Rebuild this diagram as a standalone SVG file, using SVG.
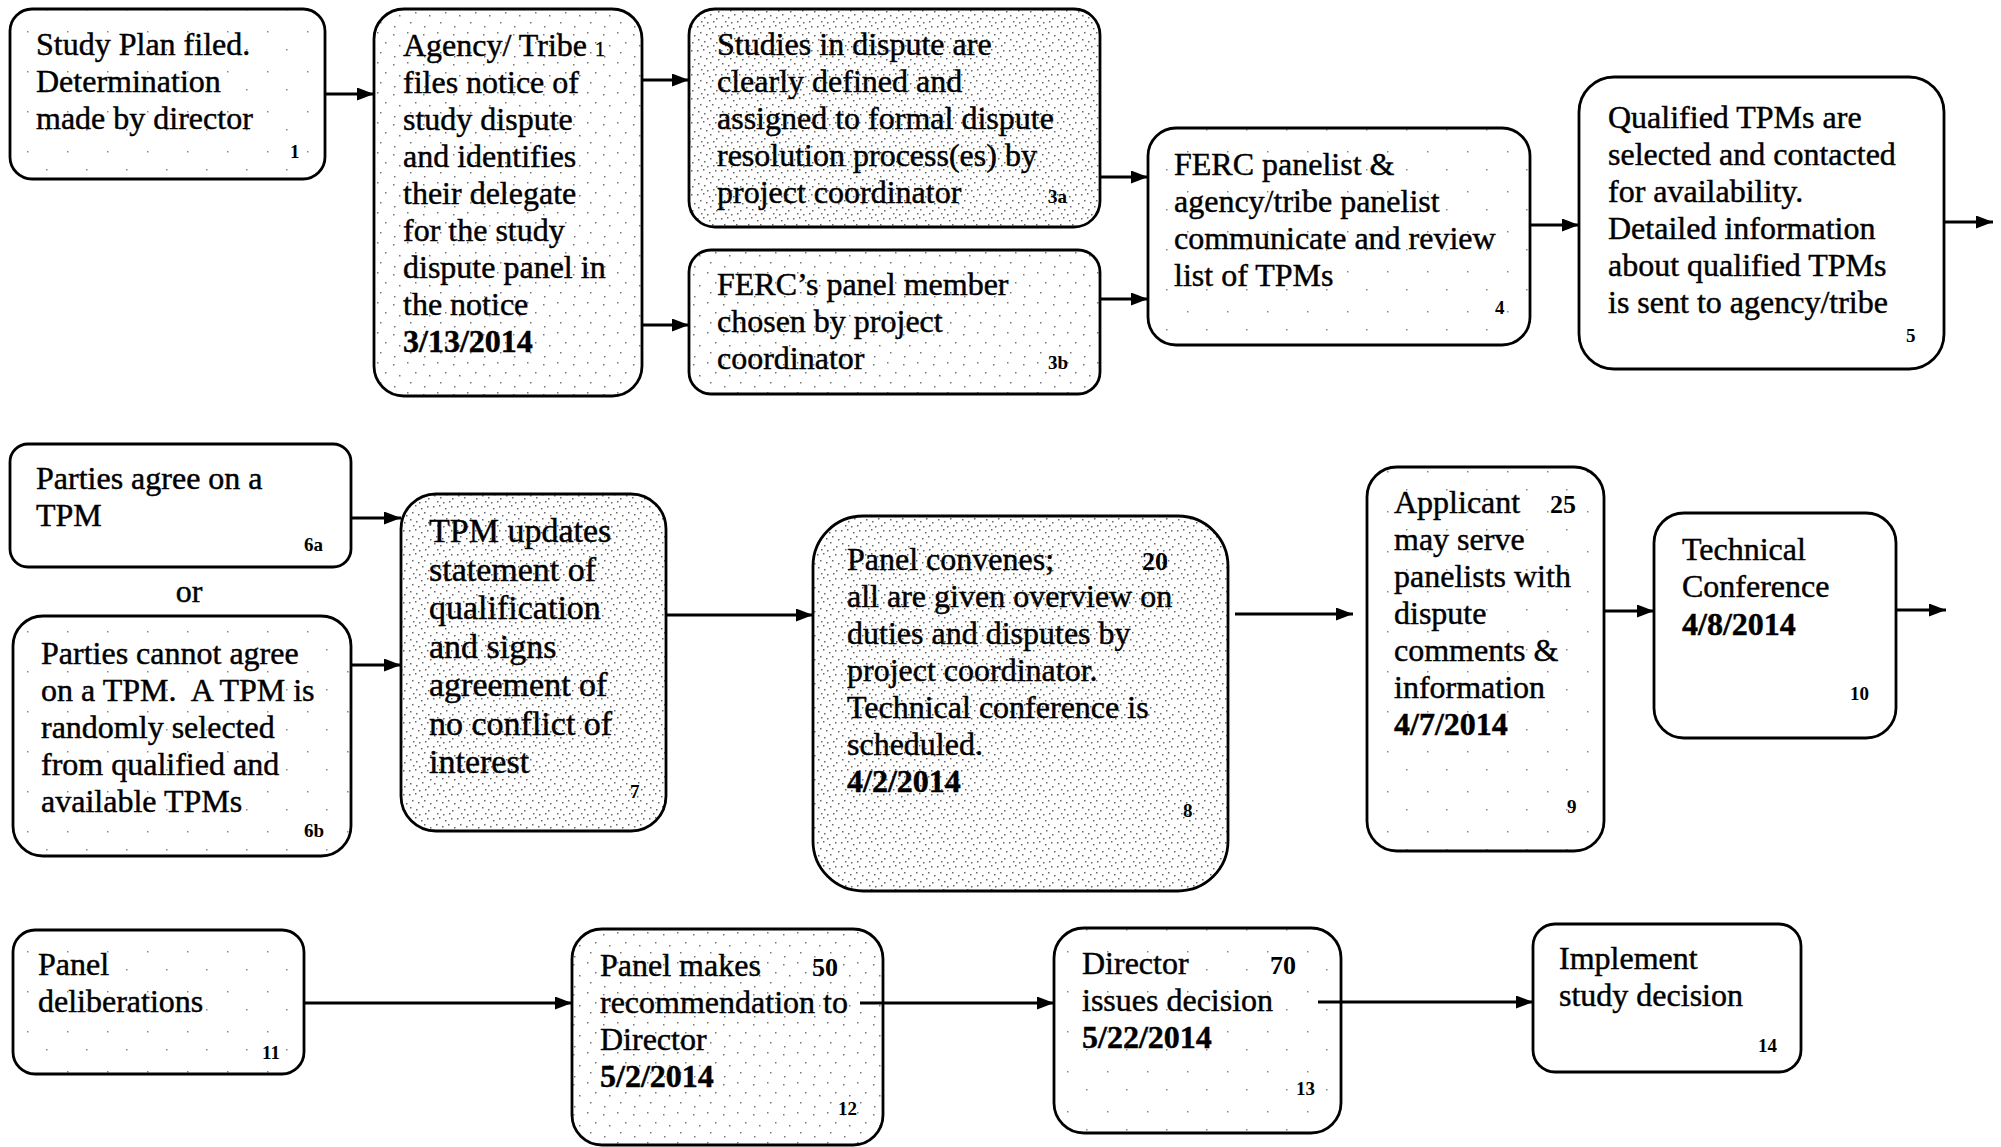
<svg xmlns="http://www.w3.org/2000/svg" width="2001" height="1147" viewBox="0 0 2001 1147">
<style>
.box{stroke:#000;stroke-width:2.8}
.t{font-family:"Liberation Serif","Times New Roman",serif;font-size:32px;fill:#000;stroke:#000;stroke-width:0.45}
.t7{font-size:34px}
.b{font-weight:bold}
.n{font-family:"Liberation Serif","Times New Roman",serif;font-size:19px;font-weight:bold;fill:#000}
.nb{font-family:"Liberation Serif","Times New Roman",serif;font-size:26px;font-weight:bold;fill:#000}
.c{stroke:#000;stroke-width:2.8;fill:none;marker-end:url(#ah)}
</style>
<defs>
<marker id="ah" markerUnits="userSpaceOnUse" markerWidth="17" markerHeight="13" refX="17" refY="6.5" orient="auto">
<path d="M0,0 L17,6.5 L0,13 z" fill="#000"/>
</marker>
<pattern id="dh" width="24" height="24" patternUnits="userSpaceOnUse">
<rect width="24" height="24" fill="#fff"/>
<g fill="#666">
<rect x="1" y="2" width="1.5" height="1.5"/><rect x="7" y="1" width="1.5" height="1.5"/><rect x="13" y="4" width="1.5" height="1.5"/><rect x="19" y="2" width="1.5" height="1.5"/>
<rect x="4" y="8" width="1.5" height="1.5"/><rect x="10" y="10" width="1.5" height="1.5"/><rect x="16" y="8" width="1.5" height="1.5"/><rect x="22" y="11" width="1.5" height="1.5"/>
<rect x="2" y="15" width="1.5" height="1.5"/><rect x="8" y="17" width="1.5" height="1.5"/><rect x="14" y="14" width="1.5" height="1.5"/><rect x="20" y="18" width="1.5" height="1.5"/>
<rect x="5" y="21" width="1.5" height="1.5"/><rect x="11" y="22" width="1.5" height="1.5"/><rect x="17" y="21" width="1.5" height="1.5"/>
</g>
</pattern>
<pattern id="dm" width="30" height="30" patternUnits="userSpaceOnUse">
<rect width="30" height="30" fill="#fff"/>
<g fill="#777">
<rect x="3" y="4" width="1.5" height="1.5"/><rect x="17" y="2" width="1.5" height="1.5"/><rect x="25" y="12" width="1.5" height="1.5"/>
<rect x="9" y="15" width="1.5" height="1.5"/><rect x="20" y="22" width="1.5" height="1.5"/><rect x="4" y="26" width="1.5" height="1.5"/>
</g>
</pattern>
<pattern id="dl" width="40" height="40" patternUnits="userSpaceOnUse">
<rect width="40" height="40" fill="#fff"/>
<g fill="#888">
<rect x="6" y="9" width="1.5" height="1.5"/><rect x="27" y="31" width="1.5" height="1.5"/>
</g>
</pattern>
</defs>
<rect width="2001" height="1147" fill="#fff"/>

<g id="n1">
<rect class="box" x="10" y="9" width="315" height="170" rx="22" fill="url(#dl)"/>
<text class="t" x="36" y="55">Study Plan filed.</text>
<text class="t" x="36" y="92">Determination</text>
<text class="t" x="36" y="129">made by director</text>
<text class="n" x="290" y="158">1</text>
</g>

<g id="n2">
<rect class="box" x="374" y="9" width="268" height="387" rx="30" fill="url(#dm)"/>
<text class="t" x="403" y="56">Agency/ Tribe <tspan font-size="20">1</tspan></text>
<text class="t" x="403" y="93">files notice of</text>
<text class="t" x="403" y="130">study dispute</text>
<text class="t" x="403" y="167">and identifies</text>
<text class="t" x="403" y="204">their delegate</text>
<text class="t" x="403" y="241">for the study</text>
<text class="t" x="403" y="278">dispute panel in</text>
<text class="t" x="403" y="315">the notice</text>
<text class="t b" x="403" y="352">3/13/2014</text>
</g>

<g id="n3a">
<rect class="box" x="689" y="9" width="411" height="218" rx="26" fill="url(#dh)"/>
<text class="t" x="717" y="55">Studies in dispute are</text>
<text class="t" x="717" y="92">clearly defined and</text>
<text class="t" x="717" y="129">assigned to formal dispute</text>
<text class="t" x="717" y="166">resolution process(es) by</text>
<text class="t" x="717" y="203">project coordinator</text>
<text class="n" x="1048" y="203">3a</text>
</g>

<g id="n3b">
<rect class="box" x="689" y="250" width="411" height="144" rx="22" fill="url(#dm)"/>
<text class="t" x="717" y="295">FERC’s panel member</text>
<text class="t" x="717" y="332">chosen by project</text>
<text class="t" x="717" y="369">coordinator</text>
<text class="n" x="1048" y="369">3b</text>
</g>

<g id="n4">
<rect class="box" x="1148" y="128" width="382" height="217" rx="28" fill="url(#dl)"/>
<text class="t" x="1174" y="175">FERC panelist &amp;</text>
<text class="t" x="1174" y="212">agency/tribe panelist</text>
<text class="t" x="1174" y="249">communicate and review</text>
<text class="t" x="1174" y="286">list of TPMs</text>
<text class="n" x="1495" y="314">4</text>
</g>

<g id="n5">
<rect class="box" x="1579" y="77" width="365" height="292" rx="35" fill="#fff"/>
<text class="t" x="1608" y="128">Qualified TPMs are</text>
<text class="t" x="1608" y="165">selected and contacted</text>
<text class="t" x="1608" y="202">for availability.</text>
<text class="t" x="1608" y="239">Detailed information</text>
<text class="t" x="1608" y="276">about qualified TPMs</text>
<text class="t" x="1608" y="313">is sent to agency/tribe</text>
<text class="n" x="1906" y="342">5</text>
</g>

<g id="n6a">
<rect class="box" x="10" y="444" width="341" height="123" rx="18" fill="#fff"/>
<text class="t" x="36" y="489">Parties agree on a</text>
<text class="t" x="36" y="526">TPM</text>
<text class="n" x="304" y="551">6a</text>
</g>

<text id="or" class="t" x="189" y="602" text-anchor="middle">or</text>

<g id="n6b">
<rect class="box" x="13" y="616" width="338" height="240" rx="30" fill="url(#dl)"/>
<text class="t" x="41" y="664">Parties cannot agree</text>
<text class="t" x="41" y="701">on a TPM.&#160; A TPM is</text>
<text class="t" x="41" y="738">randomly selected</text>
<text class="t" x="41" y="775">from qualified and</text>
<text class="t" x="41" y="812">available TPMs</text>
<text class="n" x="304" y="837">6b</text>
</g>

<g id="n7">
<rect class="box" x="401" y="494" width="265" height="337" rx="35" fill="url(#dh)"/>
<text class="t t7" x="429" y="542">TPM updates</text>
<text class="t t7" x="429" y="581">statement of</text>
<text class="t t7" x="429" y="619">qualification</text>
<text class="t t7" x="429" y="658">and signs</text>
<text class="t t7" x="429" y="696">agreement of</text>
<text class="t t7" x="429" y="735">no conflict of</text>
<text class="t t7" x="429" y="773">interest</text>
<text class="n" x="630" y="798">7</text>
</g>

<g id="n8">
<rect class="box" x="813" y="516" width="415" height="375" rx="50" fill="url(#dh)"/>
<text class="t" x="847" y="570">Panel convenes;</text>
<text class="nb" x="1142" y="570">20</text>
<text class="t" x="847" y="607">all are given overview on</text>
<text class="t" x="847" y="644">duties and disputes by</text>
<text class="t" x="847" y="681">project coordinator.</text>
<text class="t" x="847" y="718">Technical conference is</text>
<text class="t" x="847" y="755">scheduled.</text>
<text class="t b" x="847" y="792">4/2/2014</text>
<text class="n" x="1183" y="817">8</text>
</g>

<g id="n9">
<rect class="box" x="1367" y="467" width="237" height="384" rx="30" fill="url(#dl)"/>
<text class="t" x="1394" y="513">Applicant</text>
<text class="nb" x="1550" y="513">25</text>
<text class="t" x="1394" y="550">may serve</text>
<text class="t" x="1394" y="587">panelists with</text>
<text class="t" x="1394" y="624">dispute</text>
<text class="t" x="1394" y="661">comments &amp;</text>
<text class="t" x="1394" y="698">information</text>
<text class="t b" x="1394" y="735">4/7/2014</text>
<text class="n" x="1567" y="813">9</text>
</g>

<g id="n10">
<rect class="box" x="1654" y="513" width="242" height="225" rx="30" fill="#fff"/>
<text class="t" x="1682" y="560">Technical</text>
<text class="t" x="1682" y="597">Conference</text>
<text class="t b" x="1682" y="635">4/8/2014</text>
<text class="n" x="1850" y="700">10</text>
</g>

<g id="n11">
<rect class="box" x="13" y="930" width="291" height="144" rx="22" fill="url(#dl)"/>
<text class="t" x="38" y="975">Panel</text>
<text class="t" x="38" y="1012">deliberations</text>
<text class="n" x="262" y="1059">11</text>
</g>

<g id="n12">
<rect class="box" x="572" y="929" width="311" height="216" rx="30" fill="url(#dm)"/>
<text class="t" x="600" y="976">Panel makes</text>
<text class="nb" x="812" y="976">50</text>
<text class="t" x="600" y="1013">recommendation to</text>
<text class="t" x="600" y="1050">Director</text>
<text class="t b" x="600" y="1087">5/2/2014</text>
<text class="n" x="838" y="1115">12</text>
</g>

<g id="n13">
<rect class="box" x="1054" y="928" width="287" height="205" rx="30" fill="url(#dl)"/>
<text class="t" x="1082" y="974">Director</text>
<text class="nb" x="1270" y="974">70</text>
<text class="t" x="1082" y="1011">issues decision</text>
<text class="t b" x="1082" y="1048">5/22/2014</text>
<text class="n" x="1296" y="1095">13</text>
</g>

<g id="n14">
<rect class="box" x="1533" y="924" width="268" height="148" rx="22" fill="#fff"/>
<text class="t" x="1559" y="969">Implement</text>
<text class="t" x="1559" y="1006">study decision</text>
<text class="n" x="1758" y="1052">14</text>
</g>

<g id="connectors">
<line class="c" x1="325" y1="94" x2="374" y2="94"/>
<line class="c" x1="642" y1="80" x2="689" y2="80"/>
<line class="c" x1="642" y1="325" x2="689" y2="325"/>
<line class="c" x1="1100" y1="177" x2="1148" y2="177"/>
<line class="c" x1="1100" y1="299" x2="1148" y2="299"/>
<line class="c" x1="1530" y1="225" x2="1579" y2="225"/>
<line class="c" x1="1944" y1="222" x2="1993" y2="222"/>
<line class="c" x1="351" y1="518" x2="401" y2="518"/>
<line class="c" x1="351" y1="665" x2="401" y2="665"/>
<line class="c" x1="666" y1="615" x2="813" y2="615"/>
<line class="c" x1="1235" y1="614" x2="1353" y2="614"/>
<line class="c" x1="1604" y1="611" x2="1654" y2="611"/>
<line class="c" x1="1896" y1="610" x2="1946" y2="610"/>
<line class="c" x1="304" y1="1003" x2="572" y2="1003"/>
<line class="c" x1="860" y1="1003" x2="1054" y2="1003"/>
<line class="c" x1="1318" y1="1002" x2="1533" y2="1002"/>
</g>
</svg>
